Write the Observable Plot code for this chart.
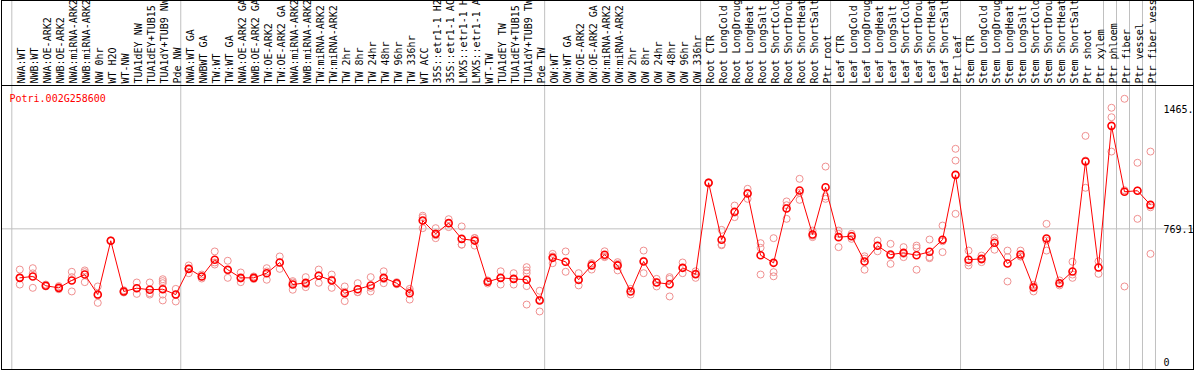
<!DOCTYPE html>
<html><head><meta charset="utf-8">
<script src="https://cdn.jsdelivr.net/npm/d3@7"></script>
<script src="https://cdn.jsdelivr.net/npm/@observablehq/plot@0.6"></script>
<style>body{margin:0;background:#fff}</style>
</head><body><div id="chart"></div>
<script>
const geneId = "Potri.002G258600";
const labels = ["NWA:WT","NWB:WT","NWA:OE-ARK2","NWB:OE-ARK2","NWA:miRNA-ARK2","NWB:miRNA-ARK2","NW 0hr","WT H2O","WT-NW","TUA1dEY NW","TUA1dEY+TUB15","TUA1dY+TUB9 NW","Pde NW",
"NWA:WT GA","NWBWT GA","TW:WT","TW:WT GA","NWA:OE-ARK2 GA","NWB:OE-ARK2 GA","TW:OE-ARK2","TW:OE-ARK2 GA","NWA:miRNA-ARK2","NWB:miRNA-ARK2","TW:miRNA-ARK2","TW:miRNA-ARK2","TW 2hr","TW 8hr","TW 24hr","TW 48hr","TW 96hr","TW 336hr","WT ACC","35S::etr1-1 H2","35S::etr1-1 AC","LMX5::etr1-1 H","LMX5::etr1-1 A","WT-TW","TUA1dEY TW","TUA1dEY+TUB15","TUA1dY+TUB9 TW","Pde TW",
"OW:WT","OW:WT GA","OW:OE-ARK2","OW:OE-ARK2 GA","OW:miRNA-ARK2","OW:miRNA-ARK2","OW 2hr","OW 8hr","OW 24hr","OW 48hr","OW 96hr","OW 336hr",
"Root CTR","Root LongCold","Root LongDroug","Root LongHeat","Root LongSalt","Root ShortCold","Root ShortDrou","Root ShortHeat","Root ShortSalt","Ptr root",
"Leaf CTR","Leaf LongCold","Leaf LongDroug","Leaf LongHeat","Leaf LongSalt","Leaf ShortCold","Leaf ShortDrou","Leaf ShortHeat","Leaf ShortSalt","Ptr leaf",
"Stem CTR","Stem LongCold","Stem LongDroug","Stem LongHeat","Stem LongSalt","Stem ShortCold","Stem ShortDrou","Stem ShortHeat","Stem ShortSalt","Ptr shoot","Ptr xylem",
"Ptr phloem","Ptr fiber","Ptr vessel","Ptr fiber vess"];
const means = [485,493,439,427,470,504,388,700,406,425,416,419,388,537,493,590,532,485,485,512,574,446,456,497,470,396,419,441,485,454,396,817,740,802,711,701,462,485,479,474,354,601,578,474,557,619,557,406,580,458,448,543,506,1036,706,868,974,616,572,887,991,736,1010,721,726,580,671,620,630,616,636,706,1082,590,595,688,568,620,429,713,454,522,1159,545,1366,984,990,908];
const reps = [[533,487,446],[541,427,511],[446,435,439],[437,419,427],[520,406,489],[528,460,518],[435,340,383],[700,702,698],[413,400,406],[458,392,425],
[458,396,388],[477,466,454,388,354],[421,348,388],[557,512,539],[504,481,493],[638,562,574],[584,485,528],[516,460,481],[493,478,485],[541,474,522],
[609,537,574],[466,416,458],[489,431,448],[533,456,500],[504,427,475],[435,350,404],[454,402,402],[489,406,427],[523,454,478],[460,448,454],
[421,359,408],[845,773,835],[773,715,732],[825,779,802],[783,677,678],[715,672,716],[470,452,464],[523,446,485],[512,446,479],[547,528,512,437,330],
[410,290,359],[624,570,609],[638,520,576],[512,441,470],[570,533,566],[639,605,610],[576,528,566],[421,388,408],[643,512,584],[479,435,460],
[489,377,479],[574,512,543],[523,485,510],[1039,1032,1036],[763,678,674],[904,837,862],[1001,943,978],[686,504,659],[715,518,494],[928,827,906],
[1059,937,978],[759,721,729],[1130,957,943],[759,663,740],[740,711,729],[610,532,597],[701,639,671],[682,566,614],[663,605,624],[672,659,532],
[707,605,599],[788,634,697],[1233,1165,856],[643,557,574],[614,590,576],[717,648,701],[643,605,464],[643,609,609],[445,406,435],[798,643,701],
[470,441,452],[578,485,504],[1308,1007,1165],[581,508,545],[1471,1416,1217],[1523,435,993],[1152,827,991],[1217,894,624]];
const groupStarts = [0,13,41,53,63,73,84,85,86,87,88];
const yTicks = [0, 769.1, 1465];
const yTickLabels = ["0", "769.1", "1465."];

const table = labels.map((label, i) => ({i, label, mean: means[i]}));
const repTable = reps.flatMap((r, i) => r.map(v => ({i, v})));
const mono = "'DejaVu Sans Mono', monospace";

const chart = Plot.plot({
  width: 1194, height: 370,
  marginTop: 85, marginBottom: 1, marginLeft: 1, marginRight: 1,
  insetBottom: 8,
  x: {type: "linear", domain: [-1.408, 90.31], axis: null},
  y: {type: "linear", domain: [0, 1600], axis: null},
  style: {fontFamily: mono, fontSize: "10px", background: "#fff", color: "#000"},
  marks: [
    Plot.ruleY([769.1], {stroke: "#c0c0c0", strokeWidth: 1}),
    Plot.ruleX(groupStarts, {x: d => d, dx: -8, stroke: "#c0c0c0", strokeWidth: 1, insetTop: -85}),
    Plot.frame({stroke: "#000", insetTop: -85}),
    Plot.frame({stroke: "#000"}),
    Plot.text(table, {x: "i", text: "label", frameAnchor: "top", dx: -2, dy: -2, rotate: -90, textAnchor: "start", fill: "#000"}),
    Plot.text([geneId], {frameAnchor: "top-left", dx: 8, dy: 9, textAnchor: "start", fill: "#ff0000"}),
    Plot.text(yTicks, {y: d => d, text: (d, i) => yTickLabels[i], frameAnchor: "right", dx: -30, dy: 1, textAnchor: "start", fill: "#000"}),
    Plot.dot(repTable, {x: "i", y: "v", r: 3.5, stroke: "#f09090", strokeWidth: 1}),
    Plot.line(table, {x: "i", y: "mean", stroke: "#ff0000", strokeWidth: 1}),
    Plot.dot(table, {x: "i", y: "mean", r: 3.5, stroke: "#ff0000", strokeWidth: 1.6})
  ]
});
document.getElementById("chart").appendChild(chart);
</script>
</body></html>
